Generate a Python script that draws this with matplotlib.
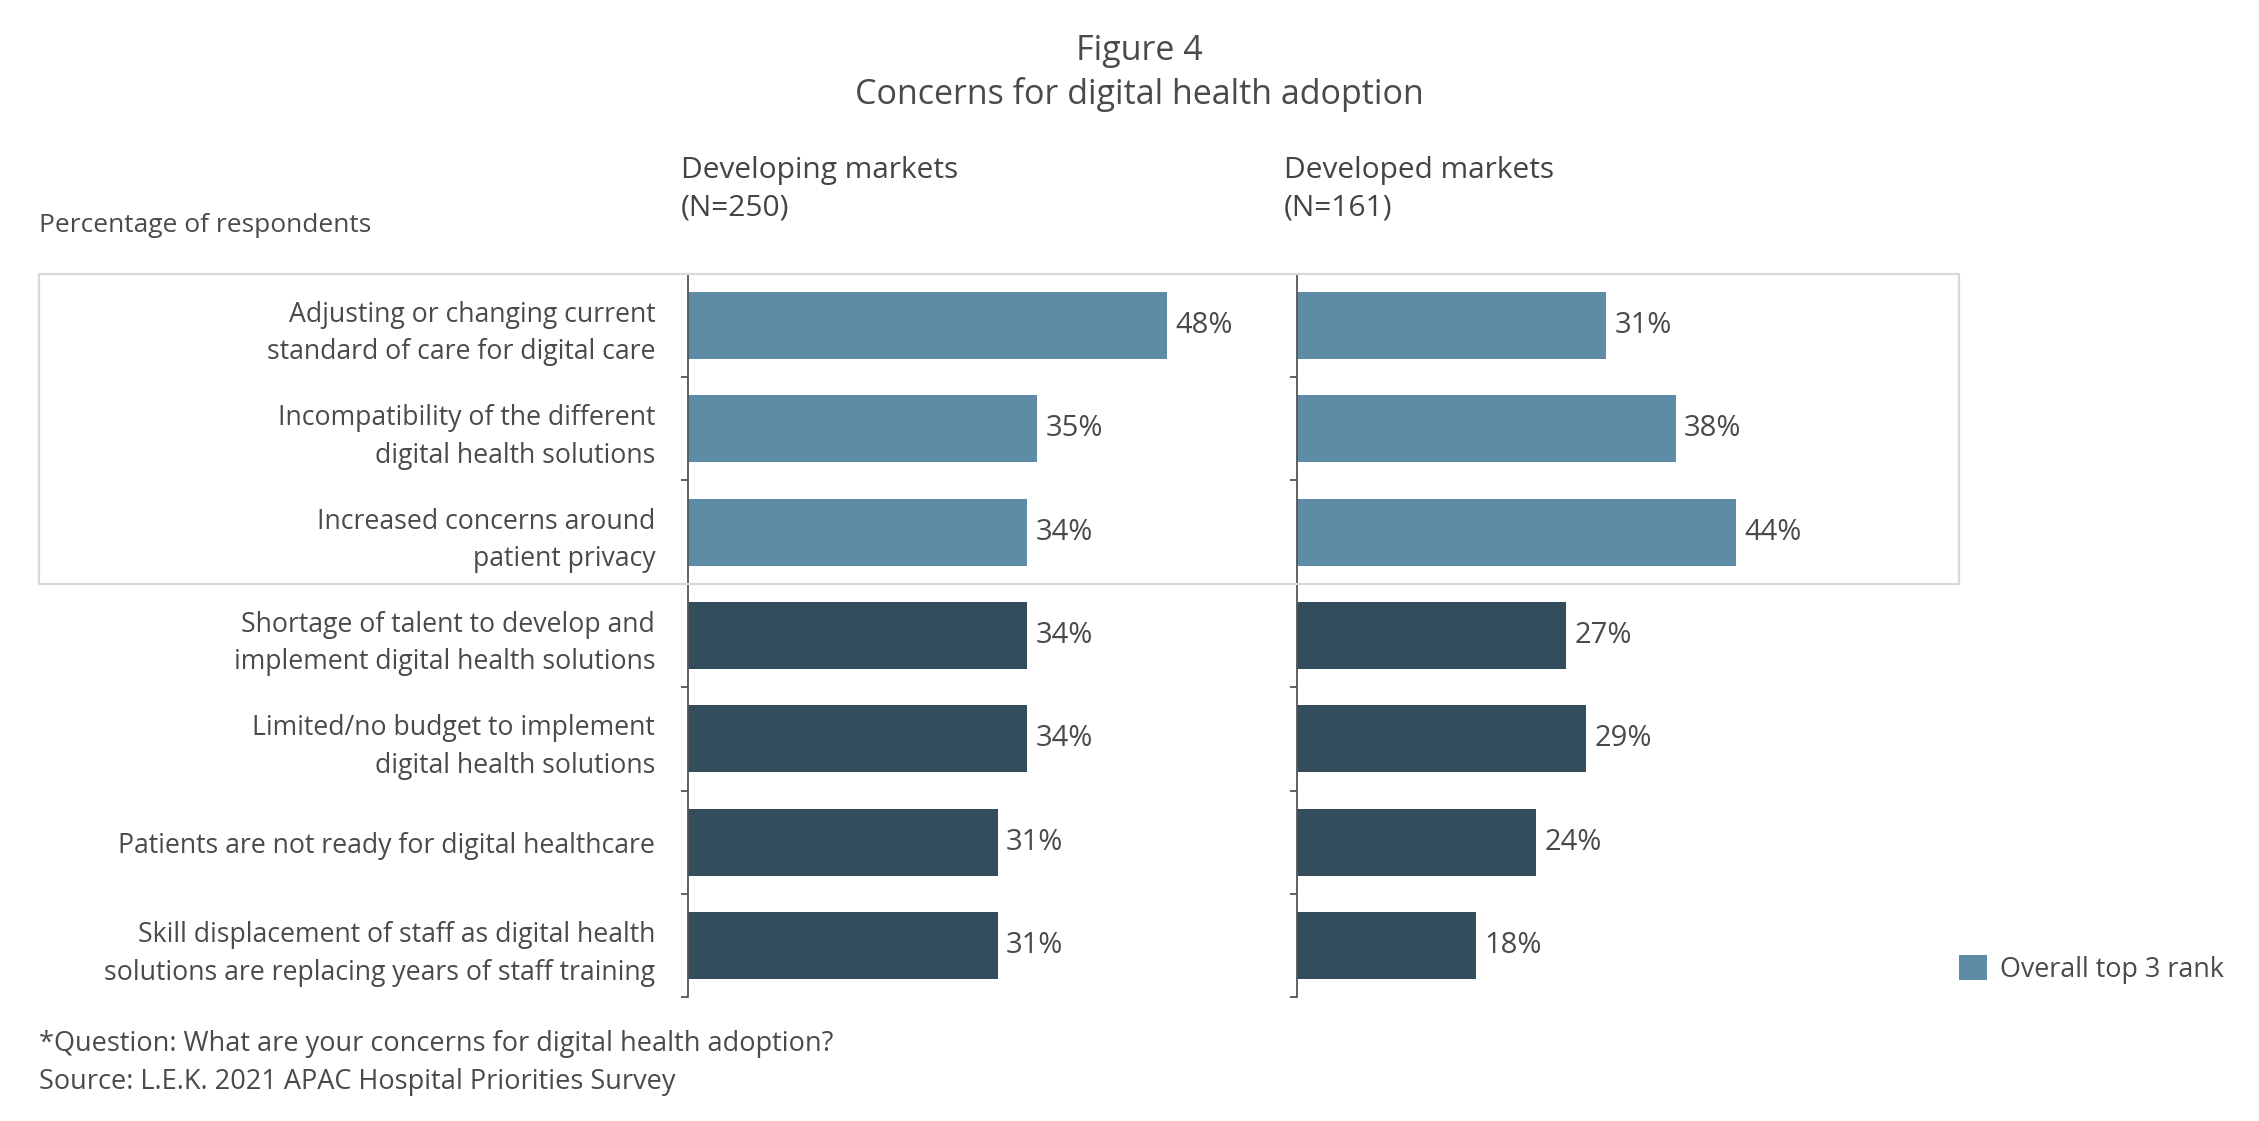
import matplotlib
matplotlib.use("Agg")
import matplotlib.pyplot as plt
from matplotlib.patches import Rectangle, Patch
from matplotlib.transforms import blended_transform_factory

# ---- data ----
categories = [
    "Adjusting or changing current\nstandard of care for digital care",
    "Incompatibility of the different\ndigital health solutions",
    "Increased concerns around\npatient privacy",
    "Shortage of talent to develop and\nimplement digital health solutions",
    "Limited/no budget to implement\ndigital health solutions",
    "Patients are not ready for digital healthcare",
    "Skill displacement of staff as digital health\nsolutions are replacing years of staff training",
]
developing = [48, 35, 34, 34, 34, 31, 31]
developed = [31, 38, 44, 27, 29, 24, 18]
top3 = [True, True, True, False, False, False, False]
panel_titles = ["Developing markets\n(N=250)", "Developed markets\n(N=161)"]

LIGHT = "#5e8ba6"
DARK = "#344d5c"
TXT = "#4a4a4a"
FONT = "Open Sans"

plt.rcParams["font.family"] = [FONT, "DejaVu Sans"]

W, H = 1552.0, 770.0  # reference display coords
fig = plt.figure(figsize=(22.59, 11.21), dpi=100)
fig.patch.set_facecolor("white")

def fx(x):
    return x / W

def fy(y):
    return 1 - y / H

LBL = 19.2
VAL = 21
ax_top, ax_bot = 188, 685
ax_w = 50 * 6.85
axes = []
for left in (473, 891):
    ax = fig.add_axes([fx(left), fy(ax_bot), fx(ax_w), fy(ax_top) - fy(ax_bot)])
    axes.append(ax)

n = len(categories)
ypos = list(range(n))
colors = [LIGHT if t else DARK for t in top3]

for k, (ax, vals) in enumerate(zip(axes, [developing, developed])):
    ax.set_facecolor("none")
    ax.barh(ypos, vals, height=0.65, color=colors, zorder=2)
    ax.set_xlim(0, 50)
    ax.set_ylim(n - 0.5, -0.5)
    for s in ("top", "right", "bottom"):
        ax.spines[s].set_visible(False)
    ax.spines["left"].set_color("#555555")
    ax.spines["left"].set_linewidth(1.3)
    ax.set_xticks([])
    ax.set_yticks([i - 0.5 for i in range(n + 1)], minor=True)
    ax.tick_params(axis="y", which="minor", length=5, width=1.3, color="#555555", direction="out")
    ax.set_yticks(ypos)
    if k == 0:
        ax.set_yticklabels(categories, fontsize=LBL, color=TXT, ha="right", linespacing=1.45)
        ax.tick_params(axis="y", which="major", length=0, pad=24)
    else:
        ax.set_yticklabels([])
        ax.tick_params(axis="y", which="major", length=0)
    for i, v in enumerate(vals):
        ax.annotate(f"{v}%", (v, i), xytext=(6, 0), textcoords="offset points",
                    va="center", ha="left", fontsize=VAL, color=TXT)

# panel headers
for left, t in zip((468, 882), panel_titles):
    fig.text(fx(left), fy(130), t, ha="left", va="center", fontsize=21.5,
             color="#444444", linespacing=1.35)

# highlight frame around top-3 rows
tr = blended_transform_factory(fig.transFigure, axes[0].transData)
frame = Rectangle((fx(27), -0.5), fx(1346) - fx(27), 3, transform=tr, fill=False,
                  edgecolor="#d9d9d9", linewidth=1.6, zorder=5, clip_on=False)
fig.add_artist(frame)

# titles and notes
fig.text(fx(783), fy(35), "Figure 4", ha="center", va="center", fontsize=24.5, color=TXT)
fig.text(fx(783), fy(65), "Concerns for digital health adoption", ha="center", va="center",
         fontsize=24.5, color=TXT)
fig.text(fx(27), fy(155), "Percentage of respondents", ha="left", va="center",
         fontsize=19, color=TXT)
fig.text(fx(27), fy(717), "*Question: What are your concerns for digital health adoption?",
         ha="left", va="center", fontsize=19.5, color=TXT)
fig.text(fx(27), fy(743), "Source: L.E.K. 2021 APAC Hospital Priorities Survey",
         ha="left", va="center", fontsize=19.5, color=TXT)

fig.legend(handles=[Patch(facecolor=LIGHT, edgecolor="none", label="Overall top 3 rank")],
           loc="center left", bbox_to_anchor=(fx(1346), fy(666)), frameon=False,
           fontsize=19.4, handlelength=1.05, handleheight=1.05, handletextpad=0.45,
           labelcolor=TXT, borderaxespad=0, borderpad=0)

fig.savefig("out.png", dpi=100)
